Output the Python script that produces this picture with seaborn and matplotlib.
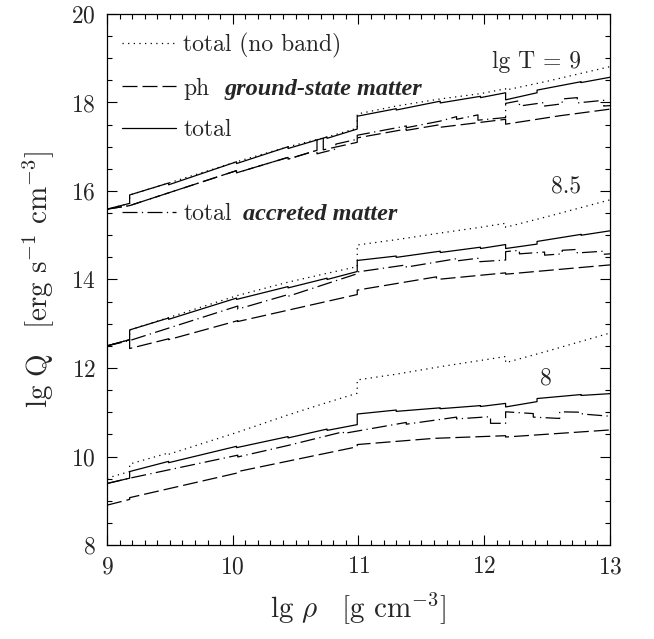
import pandas as pd
import seaborn as sns
import matplotlib.pyplot as plt
from matplotlib.lines import Line2D
from matplotlib.ticker import MultipleLocator

# lg rho / lg Q, steps are repeated x values
x_tot = [9.00, 9.18, 9.18, 9.49, 9.49, 10.03, 10.03, 10.44, 10.44, 10.75, 10.75, 10.99, 10.99,
         11.30, 11.30, 11.65, 11.65, 11.97, 11.97, 12.17, 12.17, 12.42, 12.42, 12.77, 12.77, 13.00]

# lg T = 9
q9_tot = [15.59, 15.72, 15.91, 16.18, 16.14, 16.66, 16.62, 17.00, 16.96, 17.22, 17.19, 17.40, 17.69,
          17.86, 17.83, 18.03, 17.99, 18.14, 18.11, 18.22, 18.06, 18.22, 18.28, 18.47, 18.45, 18.57]
x9_nb = [9.00, 9.18, 9.18, 9.49, 10.03, 10.44, 10.75, 10.99, 10.99, 11.30, 11.65, 11.97, 12.17, 12.17, 12.50, 13.00]
q9_nb = [15.59, 15.72, 15.91, 16.18, 16.66, 17.00, 17.22, 17.42, 17.74, 17.92, 18.08, 18.20, 18.31, 18.28, 18.48, 18.81]
x9_acc = [9.00, 9.18, 10.03, 10.03, 10.44, 10.44, 10.67, 10.67, 10.82, 10.82, 10.99, 10.99, 11.38, 11.38,
          11.65, 11.78, 11.78, 11.95, 11.95, 12.17, 12.17, 12.28, 12.28, 12.48, 12.48, 12.62, 12.62,
          12.74, 12.74, 12.95, 12.95, 13.00]
q9_acc = [15.59, 15.67, 16.46, 16.41, 16.76, 16.72, 16.92, 16.84, 16.95, 17.06, 17.17, 17.26, 17.47, 17.43,
          17.58, 17.68, 17.62, 17.72, 17.60, 17.66, 17.98, 18.04, 17.92, 18.00, 17.92, 17.97, 18.08,
          18.11, 17.99, 18.05, 17.92, 17.93]
x9_ph = [9.00, 9.18, 10.03, 10.03, 10.44, 10.44, 10.67, 10.67, 10.72, 10.72, 10.99, 10.99, 11.38, 11.38,
         11.65, 11.65, 12.17, 12.17, 12.60, 13.00]
q9_ph = [15.59, 15.67, 16.46, 16.41, 16.76, 16.72, 16.92, 17.16, 17.19, 16.93, 17.10, 17.20, 17.40, 17.37,
         17.50, 17.44, 17.62, 17.51, 17.70, 17.85]

# lg T = 8.5
q85_tot = [12.50, 12.64, 12.86, 13.13, 13.10, 13.58, 13.55, 13.84, 13.81, 14.03, 14.00, 14.18, 14.43,
           14.53, 14.50, 14.64, 14.61, 14.73, 14.70, 14.79, 14.70, 14.80, 14.86, 15.02, 15.00, 15.10]
x85_nb = [9.00, 9.18, 9.18, 9.49, 10.04, 10.44, 10.75, 10.99, 10.99, 11.30, 11.65, 11.97, 12.17, 12.17, 12.50, 13.00]
q85_nb = [12.50, 12.64, 12.86, 13.14, 13.64, 13.94, 14.14, 14.29, 14.78, 14.90, 15.05, 15.18, 15.27, 15.18, 15.42, 15.80]
x85_acc = [9.00, 9.18, 10.04, 10.04, 10.44, 10.44, 10.99, 10.99, 11.38, 11.38, 11.78, 11.78, 11.95, 11.95,
           12.17, 12.17, 12.28, 12.28, 12.48, 12.48, 12.62, 12.62, 12.74, 12.74, 12.95, 12.95, 13.00]
q85_acc = [12.50, 12.62, 13.40, 13.33, 13.66, 13.62, 14.13, 14.17, 14.33, 14.28, 14.47, 14.42, 14.48, 14.40,
           14.44, 14.63, 14.66, 14.58, 14.62, 14.55, 14.58, 14.66, 14.68, 14.60, 14.64, 14.57, 14.58]
x85_ph = [9.00, 9.18, 9.18, 9.49, 9.49, 10.04, 10.04, 10.99, 10.99, 11.62, 11.62, 12.17, 12.17, 13.00]
q85_ph = [12.50, 12.64, 12.44, 12.66, 12.64, 13.07, 13.05, 13.66, 13.76, 14.06, 14.00, 14.15, 14.12, 14.33]

# lg T = 8
q8_tot = [9.39, 9.51, 9.66, 9.89, 9.86, 10.23, 10.20, 10.45, 10.42, 10.62, 10.59, 10.72, 10.96,
          11.05, 11.02, 11.10, 11.08, 11.15, 11.13, 11.20, 11.12, 11.24, 11.31, 11.40, 11.38, 11.42]
x8_nb = [9.00, 9.18, 9.18, 9.49, 9.49, 10.04, 10.44, 10.75, 10.99, 10.99, 11.30, 11.65, 11.97, 12.17, 12.17, 12.50, 13.00]
q8_nb = [9.51, 9.66, 9.83, 10.08, 10.05, 10.55, 10.94, 11.22, 11.43, 11.73, 11.86, 12.03, 12.17, 12.26, 12.12, 12.38, 12.79]
x8_acc = [9.00, 9.18, 10.04, 10.04, 10.44, 10.88, 10.88, 11.38, 11.38, 11.78, 11.78, 12.05, 12.05, 12.17, 12.17,
          12.39, 12.39, 12.60, 12.60, 12.78, 12.78, 13.00]
q8_acc = [9.39, 9.51, 10.03, 9.99, 10.25, 10.56, 10.52, 10.77, 10.73, 10.89, 10.85, 10.90, 10.75, 10.75, 11.01,
          10.97, 10.89, 10.86, 11.01, 11.00, 10.96, 10.91]
x8_ph = [9.00, 9.18, 9.18, 10.04, 10.04, 10.99, 10.99, 11.60, 12.17, 12.17, 13.00]
q8_ph = [8.90, 9.03, 9.07, 9.63, 9.66, 10.22, 10.27, 10.41, 10.47, 10.44, 10.60]

curves = [
    ('9', 'nb', x9_nb, q9_nb), ('9', 'ph', x9_ph, q9_ph), ('9', 'tot', x_tot, q9_tot), ('9', 'acc', x9_acc, q9_acc),
    ('8.5', 'nb', x85_nb, q85_nb), ('8.5', 'ph', x85_ph, q85_ph), ('8.5', 'tot', x_tot, q85_tot), ('8.5', 'acc', x85_acc, q85_acc),
    ('8', 'nb', x8_nb, q8_nb), ('8', 'ph', x8_ph, q8_ph), ('8', 'tot', x_tot, q8_tot), ('8', 'acc', x8_acc, q8_acc),
]
df = pd.concat([pd.DataFrame({'rho': x, 'Q': q, 'lgT': t, 'kind': k, 'curve': t + k})
                for t, k, x, q in curves], ignore_index=True)

dash_styles = {'nb': (1, 3.5), 'ph': (12, 4), 'tot': '', 'acc': (12, 3.5, 1, 3.5)}

sns.set_style('ticks')
plt.rcParams['font.family'] = 'cmr10'
plt.rcParams['mathtext.fontset'] = 'cm'
plt.rcParams['axes.formatter.use_mathtext'] = True
plt.rcParams['axes.unicode_minus'] = False

fig = plt.figure(figsize=(6.54, 6.39), dpi=100)
ax = fig.add_axes([0.1636, 0.1471, 0.7691, 0.831])

sns.lineplot(data=df, x='rho', y='Q', style='kind', units='curve', estimator=None, sort=False,
             dashes=dash_styles, color='black', linewidth=0.9, legend=False, ax=ax)

ax.set_xlim(9, 13)
ax.set_ylim(8, 20)
ax.xaxis.set_major_locator(MultipleLocator(1))
ax.xaxis.set_minor_locator(MultipleLocator(0.1))
ax.yaxis.set_major_locator(MultipleLocator(2))
ax.yaxis.set_minor_locator(MultipleLocator(0.5))
ax.tick_params(which='both', direction='in', top=True, right=True, labelsize=17, color='black', width=0.8)
ax.tick_params(which='major', length=7, pad=8)
ax.tick_params(which='minor', length=3.5)
for s in ax.spines.values():
    s.set_color('black')
    s.set_linewidth(0.9)

ax.set_xlabel(r'$\mathrm{lg}\ \rho\ \ \ [\mathrm{g\ cm^{-3}}]$', fontsize=21, labelpad=9)
ax.set_ylabel(r'$\mathrm{lg\ Q\ \ \ [erg\ s^{-1}\ cm^{-3}]}$', fontsize=21, labelpad=10)

ax.text(12.77, 18.92, 'lg T = 9', ha='right', va='center', fontsize=17)
ax.text(12.77, 16.1, '8.5', ha='right', va='center', fontsize=17)
ax.text(12.49, 11.77, '8', ha='center', va='center', fontsize=17)

handles = [Line2D([], [], color='black', lw=0.9, dashes=dash_styles['nb']),
           Line2D([], [], color='black', lw=0.9, dashes=dash_styles['ph']),
           Line2D([], [], color='black', lw=0.9),
           Line2D([], [], alpha=0),
           Line2D([], [], color='black', lw=0.9, dashes=dash_styles['acc'])]
labels = ['total (no band)', 'ph', 'total', ' ', 'total']
leg = ax.legend(handles, labels, loc='upper left', bbox_to_anchor=(-0.008, 1.0), frameon=False, fontsize=17,
                handlelength=2.3, handletextpad=0.3, labelspacing=0.83, borderaxespad=0.4)

fig.canvas.draw()
texts = leg.get_texts()
ax.annotate('ground-state matter', xy=(1, 0), xycoords=texts[1], xytext=(11, 0), textcoords='offset points',
            va='bottom', ha='left', fontsize=17.5, family='Liberation Serif', style='italic', weight='bold')
ax.annotate('accreted matter', xy=(1, 0), xycoords=texts[4], xytext=(8, 0), textcoords='offset points',
            va='bottom', ha='left', fontsize=17.5, family='Liberation Serif', style='italic', weight='bold')

fig.savefig('out.png', dpi=100)
